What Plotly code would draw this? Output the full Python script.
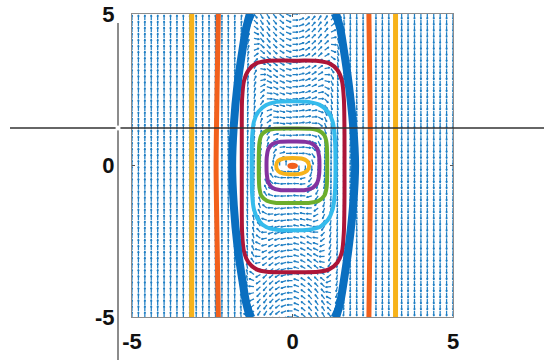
import numpy as np
import plotly.graph_objects as go

# ---------------- data ----------------
# quiver grid (MATLAB style meshgrid -5:0.2:5)
grid_x = np.linspace(-5, 5, 51)
grid_y = np.linspace(-5, 5, 51)

# traced trajectories (closed orbits), x / y lists
dot_x = [0.0, 0.10, 0.14, 0.10, 0.0, -0.10, -0.13, -0.10, 0.0]
dot_y = [0.06, 0.04, -0.01, -0.06, -0.08, -0.06, -0.01, 0.04, 0.06]

yel_x = [0, 0.28, 0.45, 0.52, 0.45, 0.28, 0, -0.28, -0.45, -0.51, -0.45, -0.28, 0]
yel_y = [0.25, 0.23, 0.15, -0.01, -0.18, -0.27, -0.29, -0.27, -0.18, -0.01, 0.15, 0.23, 0.25]

pur_x = [0, 0.40, 0.63, 0.77, 0.83, 0.84, 0.83, 0.77, 0.63, 0.40, 0, -0.40, -0.62, -0.75, -0.80, -0.81, -0.80, -0.75, -0.62, -0.40, 0]
pur_y = [0.79, 0.78, 0.71, 0.55, 0.30, 0, -0.30, -0.57, -0.74, -0.81, -0.82, -0.81, -0.74, -0.57, -0.30, 0, 0.30, 0.55, 0.71, 0.78, 0.79]

grn_x = [0, 0.55, 0.82, 0.99, 1.06, 1.08, 1.08, 1.08, 1.06, 0.99, 0.82, 0.55, 0, -0.55, -0.80, -0.97, -1.03, -1.05, -1.05, -1.05, -1.03, -0.97, -0.80, -0.55, 0]
grn_y = [1.22, 1.21, 1.15, 1.00, 0.75, 0.30, 0, -0.30, -0.75, -1.00, -1.16, -1.23, -1.24, -1.23, -1.16, -1.00, -0.75, -0.30, 0, 0.30, 0.75, 1.00, 1.15, 1.21, 1.22]

cyn_x = [0, 0.50, 0.85, 1.10, 1.25, 1.32, 1.34, 1.32, 1.25, 1.10, 0.85, 0.50, 0, -0.50, -0.82, -1.06, -1.20, -1.26, -1.27, -1.26, -1.20, -1.06, -0.82, -0.50, 0]
cyn_y = [2.12, 2.10, 2.00, 1.78, 1.45, 0.90, 0, -0.90, -1.45, -1.80, -2.03, -2.12, -2.14, -2.12, -2.03, -1.80, -1.45, -0.90, 0, 0.90, 1.45, 1.78, 2.00, 2.10, 2.12]

crm_x = [0, 0.80, 1.15, 1.40, 1.54, 1.60, 1.62, 1.62, 1.62, 1.60, 1.54, 1.40, 1.15, 0.80, 0,
         -0.80, -1.13, -1.37, -1.51, -1.57, -1.58, -1.58, -1.58, -1.57, -1.51, -1.37, -1.13, -0.80, 0]
crm_y = [3.46, 3.45, 3.37, 3.15, 2.80, 2.20, 1.00, 0, -1.00, -2.20, -2.85, -3.20, -3.42, -3.51, -3.52,
         -3.51, -3.42, -3.20, -2.85, -2.20, -1.00, 0, 1.00, 2.20, 2.80, 3.15, 3.37, 3.45, 3.46]

# separatrix-like blue branches
blu_y = [5.0, 4.5, 3.8, 2.7, 1.3, 0, -1.3, -2.7, -3.8, -4.5, -5.0]
blu_left_x = [-1.33, -1.45, -1.56, -1.71, -1.83, -1.88, -1.83, -1.71, -1.56, -1.45, -1.33]
blu_right_x = [1.36, 1.49, 1.60, 1.75, 1.89, 1.95, 1.89, 1.75, 1.60, 1.49, 1.36]
flare_y_top = [5.0, 4.7, 4.3]
flare_y_bot = [-5.0, -4.7, -4.3]
flare_left_x = [-1.24, -1.36, -1.48]
flare_right_x = [1.27, 1.40, 1.52]

# outer (vertical) trajectories
vert_y = [5.0, 2.5, 0, -2.5, -5.0]
org_left_x = [-2.31, -2.35, -2.38, -2.35, -2.31]
org_right_x = [2.38, 2.41, 2.43, 2.41, 2.38]
gold_left_x = [-3.14, -3.14, -3.14, -3.14, -3.14]
gold_right_x = [3.21, 3.21, 3.21, 3.21, 3.21]

tick_vals = [-5, 0, 5]
tick_text = ["-5", "0", "5"]

# ---------------- vector field of the system ----------------
def field(x, y):
    s = np.clip(1 - (x / 2.1) ** 2, 0, None)
    psi = s ** 2
    dpsi = 2 * s * (-2 * x / 2.1 ** 2)
    dphi = 1.42 * 4.5 * np.sign(x) * np.abs(x) ** 3.5
    u = 2 * psi * y
    v = -(dphi + dpsi * y ** 2)
    return u, v

GX, GY = np.meshgrid(grid_x, grid_y)
U, V = field(GX, GY)
mag = np.hypot(U, V)
mag[mag == 0] = np.inf
L = 0.17
U = U / mag * L
V = V / mag * L
alpha, beta = 0.33, 0.33
qx, qy = [], []
for x0, y0, u, v in zip(GX.ravel(), GY.ravel(), U.ravel(), V.ravel()):
    if u == 0 and v == 0:
        continue
    tx, ty = x0 + u, y0 + v
    h1x = tx - alpha * (u + beta * v)
    h1y = ty - alpha * (v - beta * u)
    h2x = tx - alpha * (u - beta * v)
    h2y = ty - alpha * (v + beta * u)
    qx += [x0, tx, None, h1x, tx, h2x, None]
    qy += [y0, ty, None, h1y, ty, h2y, None]

fig = go.Figure()
fig.add_trace(go.Scatter(x=qx, y=qy, mode="lines",
                         line=dict(color="#1f7fc4", width=1.25),
                         hoverinfo="skip", showlegend=False))

def curve(x, y, color, width, fill=False):
    fig.add_trace(go.Scatter(
        x=x, y=y, mode="lines",
        line=dict(color=color, width=width, shape="spline", smoothing=0.8),
        fill="toself" if fill else None,
        fillcolor=color if fill else None,
        hoverinfo="skip", showlegend=False))

BLUE = "#0a6fc0"
ORANGE = "#f2601c"
GOLD = "#f7b21a"
PURPLE = "#8433a0"
GREEN = "#6cae2c"
CYAN = "#35bbec"
CRIMSON = "#ac1538"

curve(dot_x, dot_y, ORANGE, 2, fill=True)
curve(yel_x, yel_y, GOLD, 4)
curve(pur_x, pur_y, PURPLE, 4)
curve(grn_x, grn_y, GREEN, 4)
curve(cyn_x, cyn_y, CYAN, 4)
curve(crm_x, crm_y, CRIMSON, 4)
curve(blu_left_x, blu_y, BLUE, 8)
curve(blu_right_x, blu_y, BLUE, 8)
curve(flare_left_x, flare_y_top, BLUE, 5)
curve(flare_right_x, flare_y_top, BLUE, 5)
curve(flare_left_x, flare_y_bot, BLUE, 5)
curve(flare_right_x, flare_y_bot, BLUE, 5)
curve(org_left_x, vert_y, ORANGE, 5)
curve(org_right_x, vert_y, ORANGE, 5)
curve(gold_left_x, vert_y, GOLD, 5)
curve(gold_right_x, vert_y, GOLD, 5)

W, H = 544, 360
ML, MR, MT, MB = 132, 91, 14, 43
PW, PH = W - ML - MR, H - MT - MB

def px(xp):
    return (xp - ML) / PW

def py(yp):
    return (H - MB - yp) / PH

axis_common = dict(range=[-5, 5], tickvals=tick_vals, ticktext=tick_text,
                   showgrid=False, zeroline=False, showline=True, mirror="ticks",
                   linecolor="#8c8c8c", linewidth=1, ticks="inside", ticklen=3,
                   tickcolor="#555555", automargin=False,
                   tickfont=dict(family="Liberation Sans, Arial", size=22,
                                 color="#111111", weight="bold"))

fig.update_layout(
    width=W, height=H,
    margin=dict(l=ML, r=MR, t=MT, b=MB, pad=0, autoexpand=False),
    paper_bgcolor="white", plot_bgcolor="white",
    xaxis=dict(**axis_common, ticklabelstandoff=5),
    yaxis=dict(**axis_common, ticklabelstandoff=12),
    shapes=[
        dict(type="line", xref="paper", yref="paper",
             x0=px(118), x1=px(118), y0=py(23), y1=py(362),
             line=dict(color="#666666", width=1.5)),
        dict(type="line", xref="paper", yref="paper",
             x0=px(10), x1=px(546), y0=py(128), y1=py(128),
             line=dict(color="#333333", width=1.5)),
        dict(type="circle", xref="paper", yref="paper",
             x0=px(115.5), x1=px(120.5), y0=py(130.5), y1=py(125.5),
             fillcolor="white", line=dict(width=0)),
    ],
)

fig.write_html("out.html")
